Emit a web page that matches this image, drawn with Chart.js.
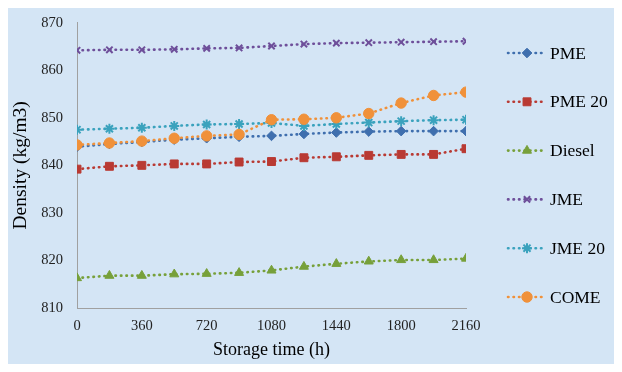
<!DOCTYPE html>
<html>
<head>
<meta charset="utf-8">
<script src="https://cdn.jsdelivr.net/npm/chart.js@4/dist/chart.umd.min.js"></script>
<style>
html,body{margin:0;padding:0;background:#fff;}
#wrap{width:622px;height:372px;position:relative;}
</style>
</head>
<body>
<div id="wrap"><canvas id="c" width="622" height="372"></canvas></div>
<script>
const hours = [0, 180, 360, 540, 720, 900, 1080, 1260, 1440, 1620, 1800, 1980, 2160];
const xTickLabels = ['0', '360', '720', '1080', '1440', '1800', '2160'];
const yTickLabels = ['810', '820', '830', '840', '850', '860', '870'];
const seriesNames = ['PME', 'PME 20', 'Diesel', 'JME', 'JME 20', 'COME'];
const pme    = [843.9, 844.5, 844.9, 845.4, 845.7, 846.0, 846.2, 846.6, 846.9, 847.1, 847.2, 847.2, 847.2];
const pme20  = [839.2, 839.8, 840.0, 840.3, 840.3, 840.7, 840.8, 841.6, 841.8, 842.1, 842.3, 842.3, 843.5];
const diesel = [816.3, 816.8, 816.8, 817.1, 817.2, 817.4, 817.9, 818.7, 819.3, 819.8, 820.1, 820.1, 820.4];
const jme    = [864.2, 864.3, 864.3, 864.4, 864.6, 864.7, 865.1, 865.5, 865.7, 865.8, 865.9, 866.0, 866.1];
const jme20  = [847.5, 847.7, 847.9, 848.3, 848.6, 848.7, 848.9, 848.3, 848.7, 849.0, 849.3, 849.5, 849.6];
const come   = [844.3, 844.7, 845.1, 845.7, 846.2, 846.5, 849.6, 849.7, 850.0, 850.9, 853.1, 854.7, 855.4];

const seriesValues = [pme, pme20, diesel, jme, jme20, come];
const colors = ['#3f6fae', '#b93a33', '#77a03a', '#6e4f9a', '#3aa2bd', '#f0913a'];
const styles = [
  {pointStyle: 'rectRot', radius: 4.8, bw: 1},
  {pointStyle: 'rect', radius: 5.6, bw: 1},
  {pointStyle: 'triangle', radius: 5.2, bw: 1},
  {pointStyle: 'crossRot', radius: 4.5, bw: 2},
  {pointStyle: 'star', radius: 5, bw: 2},
  {pointStyle: 'circle', radius: 5.2, bw: 1}
];

const serif = "'Liberation Serif', 'Times New Roman', serif";

const datasets = seriesNames.map((name, i) => ({
  label: name,
  data: hours.map((h, k) => ({x: h, y: seriesValues[i][k]})),
  borderColor: colors[i],
  backgroundColor: colors[i],
  pointBackgroundColor: colors[i],
  pointBorderColor: colors[i],
  pointStyle: styles[i].pointStyle,
  pointRadius: styles[i].radius,
  pointBorderWidth: styles[i].bw,
  borderWidth: 2.6,
  borderDash: [0.5, 5],
  borderCapStyle: 'round',
  tension: 0,
  fill: false,
  order: 5 - i
}));

const bgPlugin = {
  id: 'bg',
  beforeDraw(chart) {
    const ctx = chart.ctx;
    ctx.save();
    ctx.fillStyle = '#ffffff';
    ctx.fillRect(0, 0, chart.width, chart.height);
    ctx.fillStyle = '#d4e5f5';
    ctx.fillRect(8, 8, chart.width - 16, chart.height - 16);
    ctx.restore();
  }
};

function drawMarker(ctx, st, x, y) {
  if (Chart.helpers && Chart.helpers.drawPoint) {
    Chart.helpers.drawPoint(ctx, {pointStyle: st.pointStyle, radius: st.radius, borderWidth: st.bw, rotation: 0}, x, y);
  } else {
    ctx.beginPath(); ctx.arc(x, y, st.radius, 0, Math.PI * 2); ctx.fill();
  }
}

const legendPlugin = {
  id: 'customLegend',
  afterDraw(chart) {
    const ctx = chart.ctx;
    ctx.save();
    const x0 = 508, x1 = 545, xm = 527, xt = 550;
    const yStart = 53, step = 48.8;
    chart.data.datasets.forEach((ds, i) => {
      const y = yStart + i * step;
      ctx.strokeStyle = ds.borderColor;
      ctx.lineWidth = ds.borderWidth;
      ctx.lineCap = 'round';
      ctx.setLineDash(ds.borderDash);
      ctx.beginPath(); ctx.moveTo(x0, y); ctx.lineTo(x1, y); ctx.stroke();
      ctx.setLineDash([]);
      ctx.lineCap = 'butt';
      ctx.fillStyle = ds.pointBackgroundColor;
      ctx.strokeStyle = ds.pointBorderColor;
      ctx.lineWidth = styles[i].bw;
      drawMarker(ctx, styles[i], xm, y);
      ctx.fillStyle = '#000000';
      ctx.font = '17.5px ' + serif;
      ctx.textBaseline = 'middle';
      ctx.textAlign = 'left';
      ctx.fillText(ds.label, xt, y + 1);
    });
    ctx.restore();
  }
};

new Chart(document.getElementById('c'), {
  type: 'line',
  data: {datasets},
  plugins: [bgPlugin, legendPlugin],
  options: {
    responsive: false,
    animation: false,
    events: [],
    layout: {padding: {left: 0, right: 156, top: 19, bottom: 0}},
    plugins: {legend: {display: false}, tooltip: {enabled: false}},
    scales: {
      x: {
        type: 'linear',
        min: 0, max: 2160,
        afterBuildTicks(scale) {
          scale.ticks = xTickLabels.map(v => ({value: Number(v)}));
        },
        afterFit(scale) { scale.height = 64; },
        grid: {display: false, drawTicks: false},
        border: {display: true, color: '#a0a0a0', width: 1},
        ticks: {
          padding: 9,
          color: '#222',
          font: {family: serif, size: 14.5},
          maxRotation: 0,
          autoSkip: false,
          callback(v) { const s = String(v); return xTickLabels.includes(s) ? s : ''; }
        },
        title: {
          display: true,
          text: 'Storage time (h)',
          color: '#000',
          font: {family: serif, size: 18},
          padding: {top: 0, bottom: 11}
        }
      },
      y: {
        type: 'linear',
        min: 810, max: 870,
        afterBuildTicks(scale) {
          scale.ticks = yTickLabels.map(v => ({value: Number(v)}));
        },
        afterFit(scale) { scale.width = 77; },
        grid: {display: false, drawTicks: false},
        border: {display: true, color: '#a0a0a0', width: 1},
        ticks: {
          padding: 14,
          color: '#222',
          font: {family: serif, size: 14.5},
          callback(v) { return String(v); }
        },
        title: {
          display: true,
          text: 'Density (kg/m3)',
          color: '#000',
          font: {family: serif, size: 19.5},
          padding: {top: 9, bottom: 0}
        }
      }
    }
  }
});
</script>
</body>
</html>
